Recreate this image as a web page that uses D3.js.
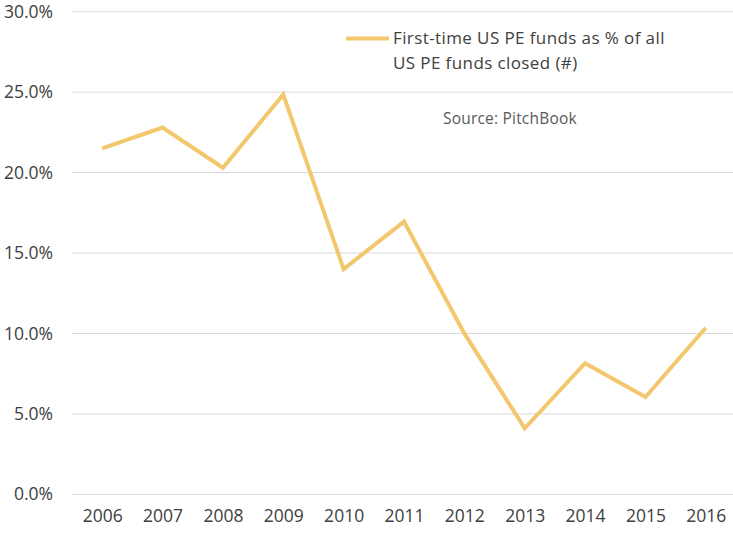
<!DOCTYPE html>
<html>
<head>
<meta charset="utf-8">
<script src="https://cdn.jsdelivr.net/npm/d3@7.9.0/dist/d3.min.js"></script>
<style>
  body { margin: 0; background: #fff; }
  svg text { font-family: "Open Sans", sans-serif; }
</style>
</head>
<body>
<svg id="chart" width="733" height="536"></svg>
<script>
// data
const years = ['2006', '2007', '2008', '2009', '2010', '2011', '2012', '2013', '2014', '2015', '2016'];
const shares = [21.5, 22.8, 20.3, 24.85, 14.0, 16.95, 10.0, 4.1, 8.15, 6.05, 10.35];
const yTicks = [0, 5, 10, 15, 20, 25, 30];
const seriesLabel = ['First-time US PE funds as % of all', 'US PE funds closed (#)'];
const sourceNote = 'Source: PitchBook';

const svg = d3.select('#chart');
const plotLeft = 72, plotRight = 736, plotTop = 11.7, plotBottom = 494.3;

const x = d3.scalePoint().domain(years).range([plotLeft, plotRight]).padding(0.5);
const y = d3.scaleLinear().domain([0, 30]).range([plotBottom, plotTop]);

// gridlines
svg.append('g')
  .selectAll('line')
  .data(yTicks)
  .join('line')
  .attr('x1', plotLeft).attr('x2', 733)
  .attr('y1', d => y(d)).attr('y2', d => y(d))
  .attr('stroke', '#d9d9d9').attr('stroke-width', 1);

// y axis labels
const yAxis = svg.append('g')
  .attr('transform', `translate(${plotLeft},0)`)
  .call(d3.axisLeft(y).tickValues(yTicks).tickFormat(d => d.toFixed(1) + '%').tickSize(0).tickPadding(19));
yAxis.select('.domain').remove();
yAxis.selectAll('text').attr('font-size', 17.5).attr('fill', '#404040').attr('font-family', '"Open Sans", sans-serif');

// x axis labels
const xAxis = svg.append('g')
  .attr('transform', `translate(0,${plotBottom})`)
  .call(d3.axisBottom(x).tickSize(0).tickPadding(15));
xAxis.select('.domain').remove();
xAxis.selectAll('text').attr('font-size', 17.5).attr('fill', '#404040').attr('font-family', '"Open Sans", sans-serif');

// the line
const line = d3.line()
  .x((d, i) => x(years[i]))
  .y(d => y(d));

svg.append('path')
  .datum(shares)
  .attr('d', line)
  .attr('fill', 'none')
  .attr('stroke', '#f2c76e')
  .attr('stroke-width', 4)
  .attr('stroke-linejoin', 'miter');

// legend
svg.append('line')
  .attr('x1', 346).attr('x2', 389)
  .attr('y1', 38.5).attr('y2', 38.5)
  .attr('stroke', '#f2c76e').attr('stroke-width', 4);

svg.append('g')
  .selectAll('text')
  .data(seriesLabel)
  .join('text')
  .attr('x', 393)
  .attr('y', (d, i) => 44 + i * 24.5)
  .attr('font-size', 17)
  .attr('letter-spacing', 0.4)
  .attr('fill', '#404040')
  .text(d => d);

svg.append('text')
  .attr('x', 443).attr('y', 124)
  .attr('font-size', 15.5)
  .attr('letter-spacing', 0.2)
  .attr('fill', '#595959')
  .text(sourceNote);
</script>
</body>
</html>
